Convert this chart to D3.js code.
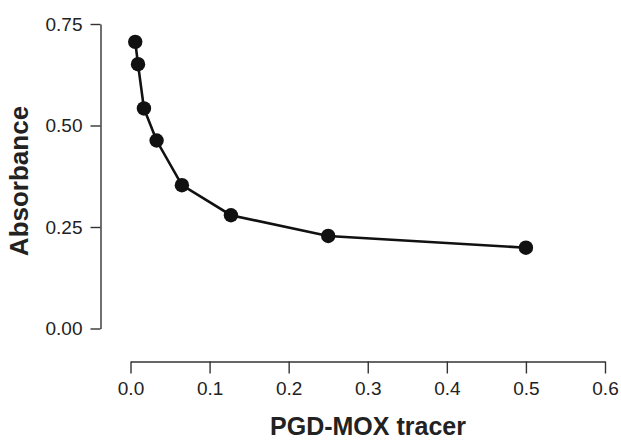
<!DOCTYPE html>
<html>
<head>
<meta charset="utf-8">
<script src="https://cdn.jsdelivr.net/npm/d3@7"></script>
<style>
  html, body { margin: 0; padding: 0; background: #fff; }
  svg { display: block; }
</style>
</head>
<body>
<svg id="chart" width="621" height="441"></svg>
<script>
// Data
const tracer = [0.006, 0.0095, 0.017, 0.033, 0.065, 0.127, 0.25, 0.5];
const absorbance = [0.706, 0.651, 0.542, 0.463, 0.353, 0.279, 0.228, 0.199];
const xTicks = [0, 0.1, 0.2, 0.3, 0.4, 0.5, 0.6];
const yTicks = [0, 0.25, 0.5, 0.75];
const xTitle = "PGD-MOX tracer";
const yTitle = "Absorbance";

const svg = d3.select("#chart");
const x = d3.scaleLinear().domain([0, 0.6]).range([130.5, 605]);
const y = d3.scaleLinear().domain([0, 0.75]).range([328.5, 24]);

const font = "'Liberation Sans', Arial, Helvetica, sans-serif";
const axisColor = "#333";

// Y axis
const gy = svg.append("g")
  .attr("transform", "translate(100.5,0)")
  .call(d3.axisLeft(y).tickValues(yTicks).tickFormat(d3.format(".2f")).tickSize(10).tickSizeOuter(0).tickPadding(8));
// X axis
const gx = svg.append("g")
  .attr("transform", "translate(0,361.5)")
  .call(d3.axisBottom(x).tickValues(xTicks).tickFormat(d3.format(".1f")).tickSize(12).tickSizeOuter(0).tickPadding(8));

[gx, gy].forEach(g => {
  g.select(".domain").attr("stroke", axisColor).attr("stroke-width", 1.4);
  g.selectAll(".tick line").attr("stroke", axisColor).attr("stroke-width", 1.4);
  g.selectAll(".tick text").attr("fill", "#222").style("font-family", font).style("font-size", "19px");
});

// Axis titles
svg.append("text")
  .attr("x", 368).attr("y", 435)
  .attr("text-anchor", "middle")
  .style("font-family", font).style("font-size", "25px").style("font-weight", "bold")
  .attr("fill", "#222")
  .text(xTitle);

svg.append("text")
  .attr("transform", "translate(28,181) rotate(-90)")
  .attr("text-anchor", "middle")
  .style("font-family", font).style("font-size", "26px").style("font-weight", "bold")
  .attr("fill", "#222")
  .text(yTitle);

const pts = tracer.map((t, i) => ({ t, a: absorbance[i] }));

svg.append("path")
  .datum(pts)
  .attr("fill", "none")
  .attr("stroke", "#111")
  .attr("stroke-width", 2.6)
  .attr("d", d3.line().x(d => x(d.t)).y(d => y(d.a)));

svg.selectAll("circle.pt")
  .data(pts)
  .join("circle")
  .attr("class", "pt")
  .attr("cx", d => x(d.t))
  .attr("cy", d => y(d.a))
  .attr("r", 7.2)
  .attr("fill", "#111");
</script>
</body>
</html>
